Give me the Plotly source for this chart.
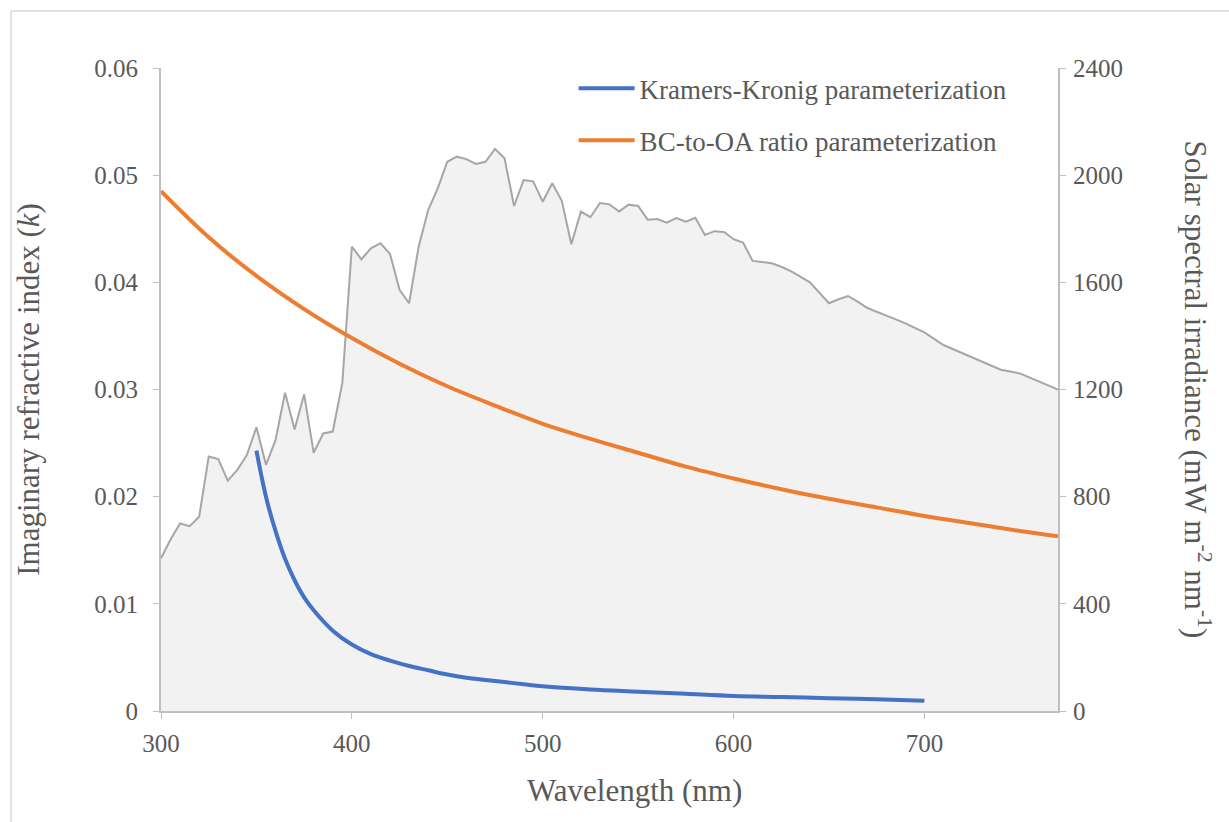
import plotly.graph_objects as go

# Solar spectrum (right axis)
solar_wl = [300, 305, 310, 315, 320, 325, 330, 335, 340, 345, 350, 355, 360, 365, 370, 375,
            380, 385, 390, 395, 400, 405, 410, 415, 420, 425, 430, 435, 440, 445, 450, 455,
            460, 465, 470, 475, 480, 485, 490, 495, 500, 505, 510, 515, 520, 525, 530, 535,
            540, 545, 550, 555, 560, 565, 570, 575, 580, 585, 590, 595, 600, 605, 610, 615,
            620, 625, 630, 635, 640, 645, 650, 655, 660, 665, 670, 675, 680, 685, 690, 695,
            700, 710, 720, 730, 740, 750, 760, 770]
solar_irr = [570, 640, 700, 690, 725, 950, 940, 860, 900, 955, 1059, 919, 1011, 1188, 1051, 1182,
             964, 1036, 1043, 1224, 1733, 1686, 1727, 1746, 1706, 1572, 1522, 1733, 1870, 1951, 2050, 2069,
             2060, 2042, 2050, 2098, 2063, 1885, 1982, 1977, 1901, 1970, 1904, 1742, 1864, 1843, 1896, 1891,
             1864, 1890, 1885, 1834, 1836, 1823, 1840, 1826, 1841, 1777, 1791, 1788, 1761, 1748, 1680, 1675,
             1671, 1658, 1642, 1621, 1600, 1561, 1522, 1537, 1549, 1528, 1505, 1490, 1477, 1462, 1447, 1430,
             1413, 1366, 1335, 1304, 1274, 1260, 1230, 1200]

# Kramers-Kronig parameterization (left axis)
kk_wl = [350, 355, 360, 365, 370, 375, 380, 390, 400, 410, 420, 430, 440, 450, 460, 470, 480, 490,
         500, 525, 550, 575, 600, 625, 650, 675, 700]
kk_k = [0.0243, 0.0200, 0.0168, 0.0142, 0.0122, 0.0106, 0.0094, 0.0075, 0.0062, 0.0053, 0.0047,
        0.0042, 0.0038, 0.0034, 0.0031, 0.0029, 0.0027, 0.0025, 0.0023, 0.0020, 0.0018, 0.0016,
        0.0014, 0.0013, 0.0012, 0.0011, 0.00095]

# BC-to-OA ratio parameterization (left axis)
bc_wl = [300, 325, 350, 375, 400, 425, 450, 475, 500, 525, 550, 575, 600, 625, 650, 675, 700, 725, 750, 770]
bc_k = [0.0485, 0.0442, 0.0406, 0.0375, 0.0348, 0.0324, 0.0303, 0.0285, 0.0268, 0.0254, 0.0241,
        0.0228, 0.0217, 0.0207, 0.0198, 0.0190, 0.0182, 0.0175, 0.0168, 0.0163]

x_ticks = [300, 400, 500, 600, 700]
left_ticks = [0, 0.01, 0.02, 0.03, 0.04, 0.05, 0.06]
left_labels = ["0", "0.01", "0.02", "0.03", "0.04", "0.05", "0.06"]
right_ticks = [0, 400, 800, 1200, 1600, 2000, 2400]

FONT = "Liberation Serif, Times New Roman, serif"
GREY = "#595959"
AXIS = "#bfbfbf"

fig = go.Figure()
fig.add_trace(go.Scatter(x=solar_wl, y=solar_irr, mode="lines", fill="tozeroy",
                         fillcolor="#f2f2f2", line=dict(color="#a6a6a6", width=2),
                         showlegend=False, yaxis="y", hoverinfo="skip"))
fig.add_trace(go.Scatter(x=kk_wl, y=kk_k, mode="lines", name="Kramers-Kronig parameterization",
                         line=dict(color="#4472c4", width=4, shape="spline"), yaxis="y2",
                         legend="legend"))
fig.add_trace(go.Scatter(x=bc_wl, y=bc_k, mode="lines", name="BC-to-OA ratio parameterization",
                         line=dict(color="#ed7d31", width=4, shape="spline"), yaxis="y2",
                         legend="legend2"))

tickfont = dict(family=FONT, size=25, color=GREY)
legfont = dict(family=FONT, size=27, color=GREY)
titlefont = dict(family=FONT, size=31, color=GREY)

fig.update_layout(
    width=1229, height=822,
    margin=dict(l=161, r=171, t=68, b=111),
    paper_bgcolor="white", plot_bgcolor="white",
    font=dict(family=FONT, color=GREY),
    xaxis=dict(range=[300, 770], tickvals=x_ticks, showgrid=False, zeroline=False,
               showline=True, linecolor=AXIS, linewidth=2, ticks="outside", tickcolor=AXIS,
               ticklen=6, tickwidth=1, tickfont=tickfont, ticklabelstandoff=3),
    yaxis=dict(range=[0, 2400], tickvals=right_ticks, side="right", showgrid=False,
               zeroline=False, showline=True, linecolor=AXIS, linewidth=2, ticks="outside",
               tickcolor=AXIS, ticklen=6, tickfont=tickfont, ticklabelstandoff=2),
    yaxis2=dict(range=[0, 0.06], tickvals=left_ticks, ticktext=left_labels, side="left",
                overlaying="y", showgrid=False, zeroline=False, showline=True, linecolor=AXIS,
                linewidth=2, ticks="outside", tickcolor=AXIS, ticklen=6, tickfont=tickfont,
                ticklabelstandoff=10),
    legend=dict(x=0.46, y=1.006, xanchor="left", yanchor="top", bgcolor="rgba(0,0,0,0)",
                font=legfont, itemwidth=56),
    legend2=dict(x=0.46, y=0.925, xanchor="left", yanchor="top", bgcolor="rgba(0,0,0,0)",
                 font=legfont, itemwidth=56),
    showlegend=True,
)

fig.add_annotation(text="Wavelength (nm)", xref="paper", yref="paper",
                   x=0.528, y=-0.123, xanchor="center", yanchor="middle",
                   showarrow=False, font=titlefont)
fig.add_annotation(text="Imaginary refractive index (<i>k</i>)", xref="paper", yref="paper",
                   x=-0.148, y=0.5, xanchor="center", yanchor="middle", textangle=-90,
                   showarrow=False, font=titlefont)
fig.add_annotation(text="Solar spectral irradiance (mW m<sup>-2</sup> nm<sup>-1</sup>)",
                   xref="paper", yref="paper", x=1.155, y=0.5, xanchor="center", yanchor="middle",
                   textangle=90, showarrow=False, font=titlefont)

fig.add_shape(type="rect", xref="paper", yref="paper", x0=-0.1672, y0=-0.25, x1=1.3, y1=1.0886,
              line=dict(color="#d9d9d9", width=1.5), fillcolor="rgba(0,0,0,0)", layer="below")

fig.write_html("out.html")
